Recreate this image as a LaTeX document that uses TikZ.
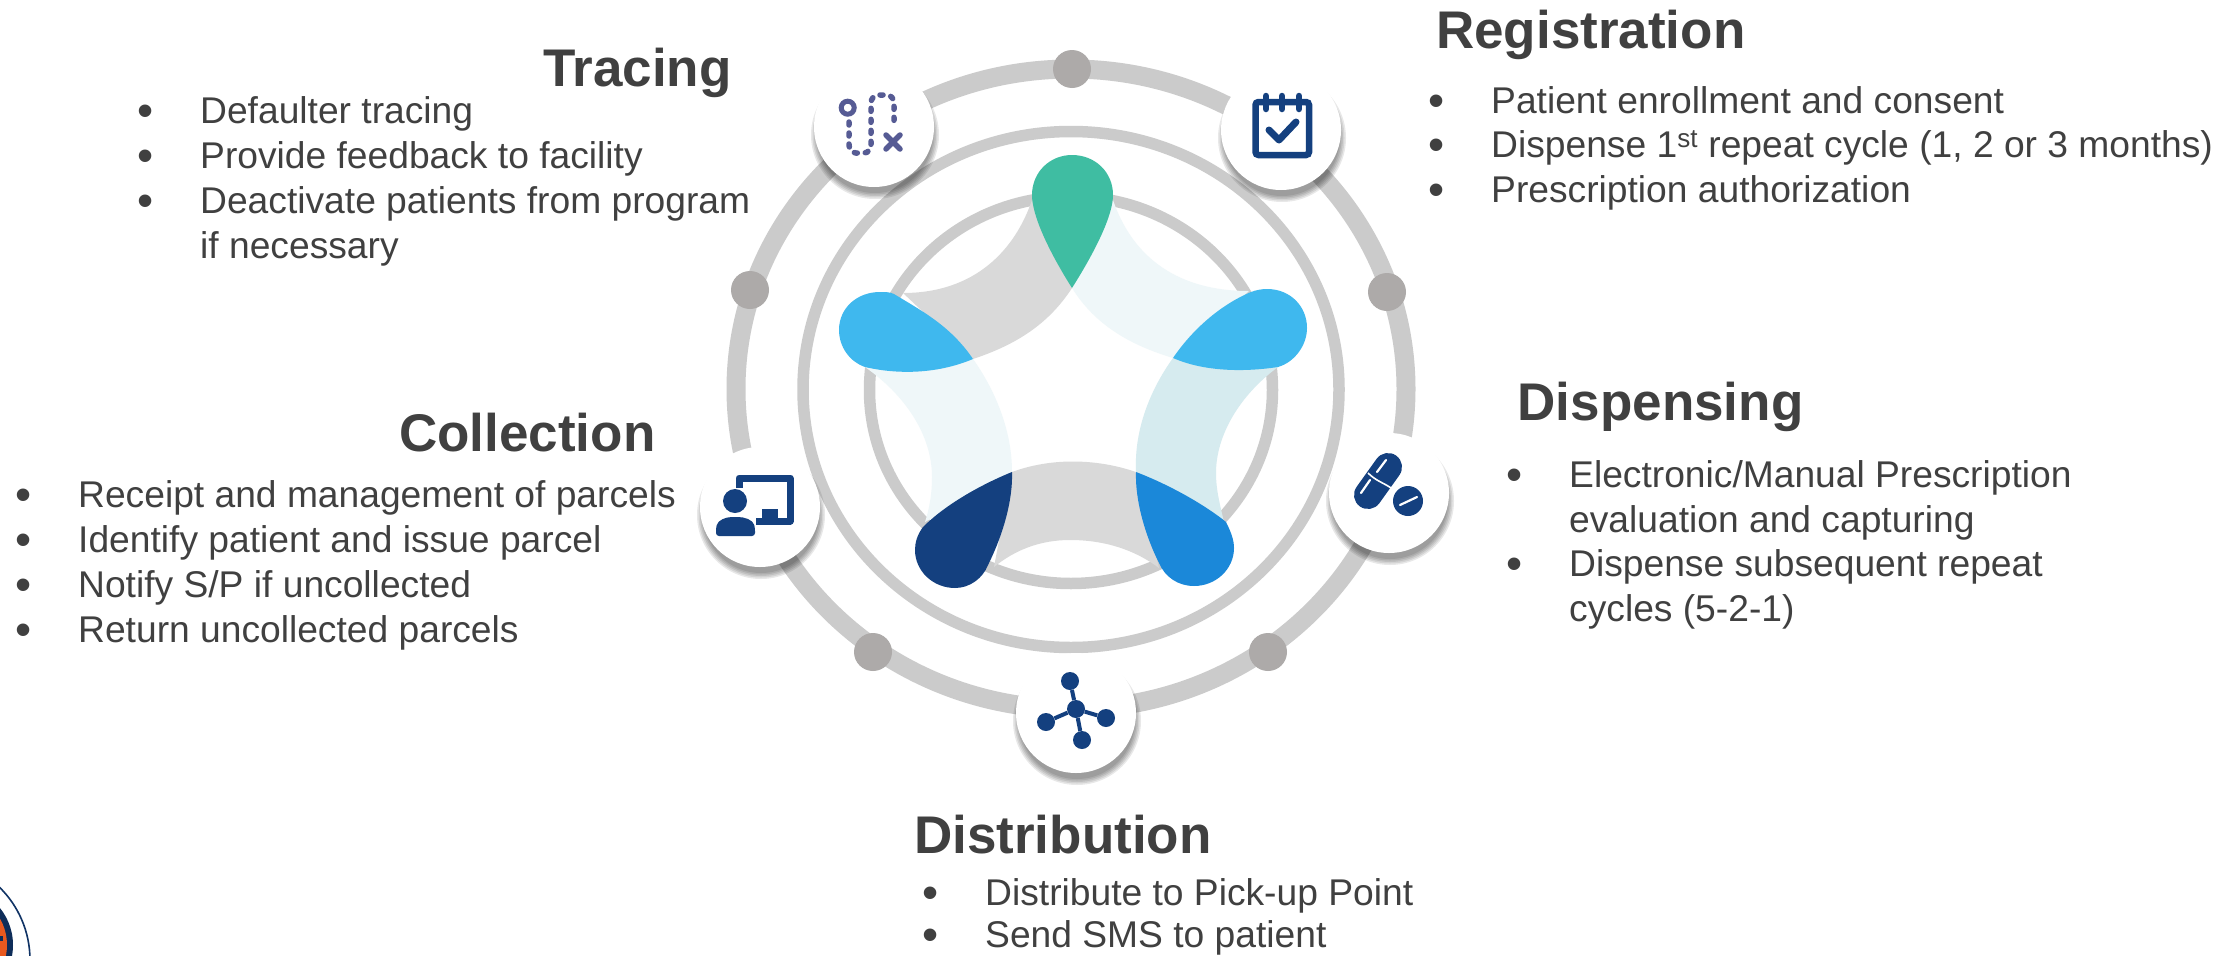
\documentclass[tikz,border=0pt]{standalone}
\usepackage{fontspec}
\setmainfont{Liberation Sans}
\definecolor{ringgray}{HTML}{CBCBCB}
\definecolor{dotgray}{HTML}{ADAAA9}
\definecolor{bandgray}{HTML}{D9D9D9}
\definecolor{bandpale}{HTML}{EFF7F9}
\definecolor{bandteal}{HTML}{D6EBEF}
\definecolor{dropgreen}{HTML}{3FBDA2}
\definecolor{dropsky}{HTML}{3FB8EE}
\definecolor{dropblue}{HTML}{1B88D9}
\definecolor{navy}{HTML}{14407F}
\definecolor{routeblue}{HTML}{565B94}
\definecolor{txt}{HTML}{404040}
\definecolor{logoorange}{HTML}{E8591F}
\newcommand{\bl}{\makebox[61pt][l]{\hspace*{-1.5pt}\smash{\raisebox{-3.3pt}{\fontsize{46}{46}\selectfont\textbullet}}}}
\newcommand{\nb}{\hspace*{61pt}}
\tikzset{
  x=1pt,y=-1pt,
  ring/.style={draw=ringgray},
  gdot/.style={circle,fill=dotgray,minimum size=38pt,inner sep=0pt},
  iconbg/.style={circle,fill=white,minimum size=120pt,inner sep=0pt},
  title/.style={anchor=base west,inner sep=0pt,text=txt,font=\fontsize{53}{60}\selectfont\bfseries},
  body/.style={anchor=base west,inner sep=0pt,text=txt,font=\fontsize{37.2}{45}\selectfont},
  hub/.style={circle,fill=navy,minimum size=18pt,inner sep=0pt},
  spoke/.style={draw=navy,line width=4pt},
  shade/.pic={
    \foreach \r in {64,62.5,61,59.5,58}{\fill[black,opacity=0.09] (1pt,-8pt) circle [radius=\r pt];}
  }
}
\begin{document}
\begin{tikzpicture}
\useasboundingbox (0,0) rectangle (2239,956);
\fill[white] (0,0) rectangle (2239,956);

% logo fragment
\begin{scope}
\clip (0,0) rectangle (2239,956);
\draw[navy!80!black,line width=1.6pt] (-72,960) circle [radius=102pt];
\fill[navy!70!black] (-46,945) circle [radius=59pt];
\fill[logoorange] (-46,945) circle [radius=53pt];
\fill[navy!70!black] (0,936) rectangle (3,941);
\end{scope}

% rings
\draw[ring,line width=19pt] (1071,389) ellipse [x radius=335pt,y radius=320pt];
\draw[ring,line width=11.5pt] (1071,389.5) ellipse [x radius=268pt,y radius=258pt];
\draw[ring,line width=11.5pt] (1071,390) ellipse [x radius=201.5pt,y radius=193.5pt];

% dots
\node[gdot] (d1) at (1072,69) {};
\node[gdot] (d2) at (1387,292) {};
\node[gdot] (d3) at (1268,652) {};
\node[gdot] (d4) at (873,652) {};
\node[gdot] (d5) at (750,290) {};

% bands
\fill[bandgray] (1032,200) .. controls (1015,250) and (975,293) .. (903,293) -- (973,359) .. controls (1015,345) and (1048,325) .. (1072,288) -- cycle;
\fill[bandpale] (1113,200) .. controls (1130,250) and (1170,291) .. (1249,291) -- (1173,358) .. controls (1130,345) and (1095,325) .. (1072,288) -- cycle;
\fill[bandpale] (865,367) .. controls (905,395) and (932,435) .. (932,477) .. controls (932,495) and (929,510) .. (925,522) -- (1012,472) .. controls (1012,430) and (995,390) .. (973,359) -- cycle;
\fill[bandteal] (1278,367) .. controls (1240,395) and (1216,435) .. (1216,473) .. controls (1216,490) and (1220,505) .. (1224,522) -- (1136,472) .. controls (1134,430) and (1150,390) .. (1173,358) -- cycle;
\fill[bandgray] (1012,472) .. controls (1050,458) and (1095,458) .. (1136,472) -- (1159,568) .. controls (1135,550) and (1105,540) .. (1070,540) .. controls (1040,540) and (1015,550) .. (994,567) -- cycle;

% petals
\fill[dropgreen] (1072,288) .. controls (1048,250) and (1032,215) .. (1032,195) .. controls (1032,172) and (1050,155) .. (1072,155) .. controls (1095,155) and (1113,172) .. (1113,195) .. controls (1113,215) and (1096,250) .. (1072,288) -- cycle;
\fill[dropsky] (973,359) .. controls (950,325) and (920,310) .. (894,294) .. controls (890,292) and (885,292) .. (880,292) .. controls (857,292) and (839,308) .. (839,330) .. controls (839,347) and (850,362) .. (865,367) .. controls (895,374) and (935,375) .. (973,359) -- cycle;
\fill[dropsky] (1173,358) .. controls (1192,330) and (1220,305) .. (1251,292) .. controls (1256,290) and (1262,289) .. (1267,289) .. controls (1290,289) and (1307,306) .. (1307,328) .. controls (1307,345) and (1295,362) .. (1278,367) .. controls (1245,372) and (1205,372) .. (1173,358) -- cycle;
\fill[navy] (1012,472) .. controls (980,485) and (945,505) .. (923,527) .. controls (917,535) and (915,543) .. (915,550) .. controls (915,571) and (933,588) .. (955,588) .. controls (970,588) and (983,578) .. (988,565) .. controls (1003,535) and (1013,500) .. (1012,472) -- cycle;
\fill[dropblue] (1136,472) .. controls (1170,485) and (1205,505) .. (1226,522) .. controls (1231,532) and (1234,540) .. (1234,548) .. controls (1234,569) and (1216,586) .. (1194,586) .. controls (1178,586) and (1165,577) .. (1159,563) .. controls (1145,535) and (1135,500) .. (1136,472) -- cycle;

% icon discs
\pic at (874,127) {shade};
\pic at (1281,130) {shade};
\pic at (1389,493) {shade};
\pic at (1076,713) {shade};
\pic at (760,507) {shade};
\node[iconbg] (i1) at (874,127) {};
\node[iconbg] (i2) at (1281,130) {};
\node[iconbg] (i3) at (1389,493) {};
\node[iconbg] (i4) at (1076,713) {};
\node[iconbg] (i5) at (760,507) {};

% tracing icon
\draw[routeblue,line width=5pt] (847.7,107.7) circle [radius=6.5pt];
\draw[routeblue,line width=5.5pt,line cap=round,dash pattern=on 3pt off 8pt] (849,122) -- (849,145) .. controls (849,149) and (852,153) .. (856,153) -- (864,153) .. controls (868,153) and (871,149) .. (871,145) -- (871,103) .. controls (871,99) and (874,95) .. (878,95) -- (887,95) .. controls (891,95) and (894,99) .. (894,103) -- (894,128);
\draw[routeblue,line width=5.5pt,line cap=round] (886,135) -- (900,149) (900,135) -- (886,149);

% registration icon
\draw[navy,line width=6.5pt,rounded corners=3pt] (1255.5,102) rectangle (1309,155);
\draw[navy,line width=6.5pt,line cap=round] (1266,96) -- (1266,109) (1282,96) -- (1282,109) (1299,96) -- (1299,109);
\draw[navy,line width=7pt,line cap=round,line join=round] (1269,130) -- (1279,140) -- (1296,122);

% dispensing icon
\draw[navy,line width=28pt,line cap=round] (1388,467) -- (1368,495);
\draw[white,line width=1.6pt] (1368,473) .. controls (1376,481) and (1384,483) .. (1391,488);
\draw[white,line width=2.2pt,line cap=round] (1377,472) -- (1386,460) (1361,493) -- (1370,480);
\fill[navy] (1408,501) circle [radius=15pt];
\draw[white,line width=2.2pt,line cap=round] (1400,505) -- (1417,497);

% distribution icon
\node[hub] (n0) at (1076,709) {};
\node[hub] (n1) at (1070,681) {};
\node[hub] (n2) at (1046,722) {};
\node[hub] (n3) at (1106,718) {};
\node[hub] (n4) at (1082,740) {};
\draw[spoke] (n0) -- (n1);
\draw[spoke] (n0) -- (n2);
\draw[spoke] (n0) -- (n3);
\draw[spoke] (n0) -- (n4);

% collection icon
\draw[navy,line width=7pt,line join=round] (739,488) -- (739,478) -- (790,478) -- (790,521) -- (756,521);
\fill[navy] (762,509) rectangle (778,520);
\fill[navy] (735,501) circle [radius=12pt];
\fill[navy,rounded corners=3pt] (716,536) -- (716,528) .. controls (718,520) and (726,517) .. (735,517) .. controls (745,517) and (753,520) .. (755,528) -- (755,536) -- cycle;

% text
\node[title] (t1) at (1436,48) {Registration};
\node[body] (a1) at (1430,113) {\bl Patient enrollment and consent};
\node[body] (a2) at (1430,157) {\bl Dispense 1\textsuperscript{st} repeat cycle (1, 2 or 3 months)};
\node[body] (a3) at (1430,202) {\bl Prescription authorization};

\node[title] (t2) at (543,86) {Tracing};
\node[body] (b1) at (139,123) {\bl Defaulter tracing};
\node[body] (b2) at (139,168) {\bl Provide feedback to facility};
\node[body] (b3) at (139,213) {\bl Deactivate patients from program};
\node[body] (b4) at (139,258) {\nb if necessary};

\node[title] (t3) at (1517.5,420) {Dispensing};
\node[body] (c1) at (1508,487) {\bl Electronic/Manual Prescription};
\node[body] (c2) at (1508,532) {\nb evaluation and capturing};
\node[body] (c3) at (1508,576) {\bl Dispense subsequent repeat};
\node[body] (c4) at (1508,621) {\nb cycles (5-2-1)};

\node[title] (t4) at (399,451) {Collection};
\node[body] (e1) at (17,507) {\bl Receipt and management of parcels};
\node[body] (e2) at (17,552) {\bl Identify patient and issue parcel};
\node[body] (e3) at (17,597) {\bl Notify S/P if uncollected};
\node[body] (e4) at (17,642) {\bl Return uncollected parcels};

\node[title] (t5) at (914,853) {Distribution};
\node[body] (f1) at (924,905) {\bl Distribute to Pick-up Point};
\node[body] (f2) at (924,947) {\bl Send SMS to patient};
\end{tikzpicture}
\end{document}
